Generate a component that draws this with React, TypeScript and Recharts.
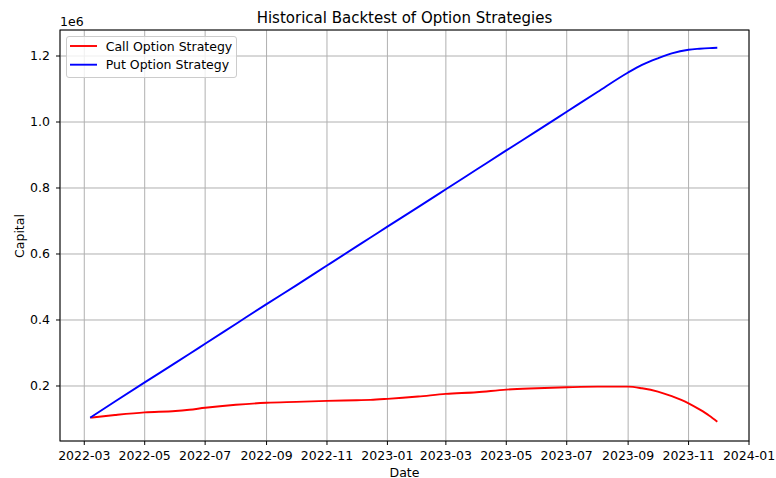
import React from "react";
import { LineChart, Line, XAxis, YAxis, CartesianGrid } from "recharts";

const DATES: string[] = [
  "2022-03-07", "2022-04-01", "2022-05-01", "2022-06-01", "2022-06-15", "2022-07-01",
  "2022-08-01", "2022-09-01", "2022-10-01", "2022-11-01", "2022-12-01", "2022-12-15",
  "2023-01-01", "2023-02-01", "2023-03-01", "2023-04-01", "2023-05-01", "2023-06-01",
  "2023-07-01", "2023-08-01", "2023-09-01", "2023-09-15", "2023-10-01", "2023-10-15",
  "2023-11-01", "2023-11-12", "2023-11-22", "2023-11-30",
];

// Capital of the call option strategy
const CALL_CAPITAL: number[] = [
  104000, 112000, 120000, 124000, 128000, 134000,
  143000, 149000, 152000, 155000, 157000, 158000,
  161000, 168000, 176000, 181000, 189000, 193000,
  196000, 198000, 198000, 193000, 183000, 169000,
  147500, 129000, 110000, 92000,
];

// Capital of the put option strategy
const PUT_CAPITAL: number[] = [
  104000, 153000, 211000, 270000, 297000, 328000,
  388000, 448000, 505000, 565000, 623000, 650000,
  683000, 742000, 796000, 856000, 914000, 973000,
  1031000, 1091000, 1150000, 1173000, 1193000, 1208000,
  1219000, 1222000, 1224000, 1225000,
];

const X_TICK_DATES: string[] = [
  "2022-03-01", "2022-05-01", "2022-07-01", "2022-09-01", "2022-11-01", "2023-01-01",
  "2023-03-01", "2023-05-01", "2023-07-01", "2023-09-01", "2023-11-01", "2024-01-01",
];
const Y_TICKS: number[] = [200000, 400000, 600000, 800000, 1000000, 1200000];

const TITLE = "Historical Backtest of Option Strategies";
const X_LABEL = "Date";
const Y_LABEL = "Capital";
const SERIES_NAMES = ["Call Option Strategy", "Put Option Strategy"];

const toTs = (s: string) => Date.parse(s + "T00:00:00Z");

const data = DATES.map((d, i) => ({
  t: toTs(d),
  call: CALL_CAPITAL[i],
  put: PUT_CAPITAL[i],
}));

const xTicks = X_TICK_DATES.map(toTs);
const X_MIN = toTs("2022-02-04") + 12 * 3600 * 1000;
const X_MAX = toTs("2024-01-01");
const Y_MIN = 33300;
const Y_MAX = 1278800;

const FONT = "'DejaVu Sans', sans-serif";

const fmtDate = (v: number) => {
  const d = new Date(v);
  const m = d.getUTCMonth() + 1;
  return `${d.getUTCFullYear()}-${m < 10 ? "0" + m : m}`;
};
const fmtY = (v: number) => (v / 1e6).toFixed(1);

export default function App() {
  const tickStyle = { fill: "#000", fontSize: 12.5, fontFamily: FONT };
  return (
    <div style={{ position: "absolute", left: 0, top: 0, width: 776, height: 478, background: "#fff" }}>
      <LineChart width={776} height={478} data={data} margin={{ top: 30, right: 27, bottom: 0, left: 0 }}>
        <CartesianGrid stroke="#b0b0b0" strokeWidth={1} />
        <XAxis
          dataKey="t"
          type="number"
          domain={[X_MIN, X_MAX]}
          allowDataOverflow
          ticks={xTicks}
          interval={0}
          tickFormatter={fmtDate}
          height={37}
          tickSize={4}
          tickMargin={6}
          axisLine={false}
          tickLine={{ stroke: "#000" }}
          tick={tickStyle}
        />
        <YAxis
          type="number"
          domain={[Y_MIN, Y_MAX]}
          allowDataOverflow
          ticks={Y_TICKS}
          interval={0}
          tickFormatter={fmtY}
          width={60}
          tickSize={4}
          tickMargin={6}
          axisLine={false}
          tickLine={{ stroke: "#000" }}
          tick={tickStyle}
        />
        <Line dataKey="call" name={SERIES_NAMES[0]} type="monotone" stroke="#ff0000" strokeWidth={1.9} dot={false} isAnimationActive={false} />
        <Line dataKey="put" name={SERIES_NAMES[1]} type="monotone" stroke="#0000ff" strokeWidth={1.9} dot={false} isAnimationActive={false} />
      </LineChart>
      <svg width={776} height={478} style={{ position: "absolute", left: 0, top: 0, pointerEvents: "none" }} fontFamily={FONT}>
        <rect x={60} y={30} width={689} height={411} fill="none" stroke="#000" strokeWidth={1} />
        <text x={404.5} y={22.5} textAnchor="middle" fontSize={15} fill="#000">{TITLE}</text>
        <text x={404.5} y={476.5} textAnchor="middle" fontSize={12.5} fill="#000">{X_LABEL}</text>
        <text transform="translate(24,236) rotate(-90)" textAnchor="middle" fontSize={12.5} fill="#000">{Y_LABEL}</text>
        <text x={60} y={26} fontSize={12.5} fill="#000">1e6</text>
        <g>
          <rect x={66.5} y={36.5} width={170} height={41} rx={2.5} fill="#fff" fillOpacity={0.8} stroke="#cccccc" strokeWidth={1} />
          <line x1={70} x2={97} y1={46} y2={46} stroke="#ff0000" strokeWidth={1.9} />
          <text x={105.7} y={50.5} fontSize={12.5} fill="#000">{SERIES_NAMES[0]}</text>
          <line x1={70} x2={97} y1={64.7} y2={64.7} stroke="#0000ff" strokeWidth={1.9} />
          <text x={105.7} y={69.2} fontSize={12.5} fill="#000">{SERIES_NAMES[1]}</text>
        </g>
      </svg>
    </div>
  );
}
